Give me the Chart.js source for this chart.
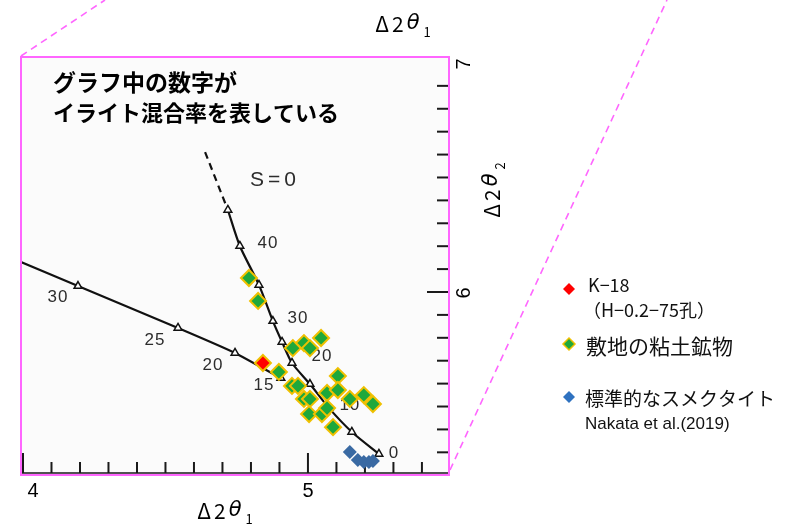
<!DOCTYPE html>
<html><head><meta charset="utf-8">
<script src="https://cdn.jsdelivr.net/npm/chart.js@4.4.0/dist/chart.umd.min.js"></script>
<style>html,body{margin:0;padding:0;background:#fff;}#wrap{width:785px;height:525px;position:relative;}</style>
</head><body><div id="wrap"><canvas id="c" width="785" height="525"></canvas></div>
<script>
// ---- axis ranges & ticks ----
const xRange = [3.993, 5.495];
const yRange = [5.201, 7.026];
const xMinorTicks = [4.0,4.1,4.2,4.3,4.4,4.5,4.6,4.7,4.8,4.9,5.0,5.1,5.2,5.3,5.4];
const xMajorTicks = [4, 5];
const xTickLabels = ['4', '5'];
const yMinorTicks = [5.3,5.4,5.5,5.6,5.7,5.8,5.9,6.0,6.1,6.2,6.3,6.4,6.5,6.6,6.7,6.8,6.9];
const yMajorTicks = [6, 7];
const yTickLabels = ['6', '7'];

// ---- reference curves (Δ2θ1, Δ2θ2) ----
const s0DashedX = [4.639, 4.719];
const s0DashedY = [6.611, 6.358];
const s0X = [4.719, 4.761, 4.828, 4.877, 4.909, 4.944, 5.007, 5.074, 5.154, 5.249];
const s0Y = [6.358, 6.201, 6.031, 5.873, 5.782, 5.690, 5.598, 5.493, 5.389, 5.293];
const s1X = [3.993, 4.193, 4.544, 4.744, 4.905];
const s1Y = [6.131, 6.026, 5.843, 5.734, 5.624];
const s1Marker = [false, true, true, true, true];

// ---- curve labels (illite %) ----
const curveLabelText = ['S=0', '40', '30', '20', '10', '0', '30', '25', '20', '15'];
const curveLabelX = [4.884, 4.860, 4.965, 5.049, 5.147, 5.302, 4.123, 4.463, 4.667, 4.846];
const curveLabelY = [6.489, 6.214, 5.886, 5.721, 5.507, 5.297, 5.978, 5.790, 5.681, 5.594];

// ---- samples ----
const k18X = [4.842];
const k18Y = [5.690];
const siteX = [4.793, 4.825, 4.947, 4.986, 5.007, 5.046, 4.898, 5.105, 4.944, 4.965, 5.067,
               5.105, 4.986, 5.007, 5.147, 5.196, 5.228, 5.004, 5.049, 5.067, 5.088];
const siteY = [6.061, 5.961, 5.755, 5.777, 5.755, 5.799, 5.651, 5.633, 5.590, 5.590, 5.559,
               5.572, 5.533, 5.533, 5.533, 5.550, 5.511, 5.467, 5.467, 5.493, 5.410];
const stdX = [5.147, 5.175, 5.196, 5.214, 5.228];
const stdY = [5.301, 5.266, 5.258, 5.258, 5.262];

// ---- texts ----
const noteLines = ['グラフ中の数字が', 'イライト混合率を表している'];
const legendEntries = [
  {label: ['K−18', '（H−0.2−75孔）'], color: '#ff0000', border: null},
  {label: ['敷地の粘土鉱物'], color: '#1ea83c', border: '#f0c000'},
  {label: ['標準的なスメクタイト', 'Nakata et al.(2019)'], color: '#2f72c0', border: null}
];

const pts = (xs, ys) => xs.map((x, i) => ({x, y: ys[i]}));
const PINK = '#ff66ff';

function drawSub(ctx, x, y, sub, size, align) {
  ctx.save();
  ctx.textBaseline = 'middle';
  ctx.textAlign = 'left';
  ctx.font = size + 'px "Noto Sans CJK JP"';
  ctx.letterSpacing = '3px';
  const wa = ctx.measureText('Δ2').width;
  ctx.font = 'italic ' + size + 'px "DejaVu Sans"';
  ctx.letterSpacing = '0px';
  const wt = ctx.measureText('θ').width;
  ctx.font = Math.round(size * 0.6) + 'px "Noto Sans CJK JP"';
  const ws = ctx.measureText(sub).width;
  const total = wa + wt + 4 + ws;
  const x0 = align === 'center' ? x - total / 2 : x;
  ctx.fillStyle = '#000';
  ctx.font = size + 'px "Noto Sans CJK JP"';
  ctx.letterSpacing = '3px';
  ctx.fillText('Δ2', x0, y);
  ctx.letterSpacing = '0px';
  ctx.font = 'italic ' + size + 'px "DejaVu Sans"';
  ctx.fillText('θ', x0 + wa, y);
  ctx.font = Math.round(size * 0.6) + 'px "Noto Sans CJK JP"';
  ctx.fillText(sub, x0 + wa + wt + 4, y + size * 0.38);
  ctx.restore();
}

const decor = {
  id: 'decor',
  beforeDatasetsDraw(chart) {
    const {ctx, chartArea: ca} = chart;
    ctx.save();
    ctx.fillStyle = '#fbfbfb';
    ctx.fillRect(ca.left, ca.top, ca.right - ca.left, ca.bottom - ca.top);
    const xs = chart.scales.x, ys = chart.scales.y;
    ctx.strokeStyle = '#1a1a1a';
    ctx.lineWidth = 1.5;
    const by = ca.bottom - 2;
    ctx.beginPath(); ctx.moveTo(ca.left, by); ctx.lineTo(ca.right, by); ctx.stroke();
    ctx.lineWidth = 2;
    xMinorTicks.forEach(v => {
      const px = xs.getPixelForValue(v);
      const len = xMajorTicks.some(m => Math.abs(m - v) < 1e-6) ? 20 : 11;
      ctx.beginPath(); ctx.moveTo(px, by); ctx.lineTo(px, by - len); ctx.stroke();
    });
    yMinorTicks.forEach(v => {
      const py = ys.getPixelForValue(v);
      const len = yMajorTicks.some(m => Math.abs(m - v) < 1e-6) ? 22 : 12;
      ctx.beginPath(); ctx.moveTo(ca.right, py); ctx.lineTo(ca.right - len, py); ctx.stroke();
    });
    ctx.fillStyle = '#2c2c2c';
    ctx.textAlign = 'center';
    ctx.textBaseline = 'middle';
    curveLabelText.forEach((t, i) => {
      const px = xs.getPixelForValue(curveLabelX[i]);
      const py = ys.getPixelForValue(curveLabelY[i]);
      if (t === 'S=0') { ctx.font = '21px "Liberation Sans"'; ctx.letterSpacing = '4px'; }
      else { ctx.font = '17px "Liberation Sans"'; ctx.letterSpacing = '1px'; }
      ctx.fillText(t, px, py);
    });
    ctx.letterSpacing = '0px';
    ctx.fillStyle = '#000';
    ctx.textAlign = 'left';
    ctx.font = 'bold 23px "Noto Sans CJK JP"';
    ctx.fillText(noteLines[0], ca.left + 32, ca.top + 25);
    ctx.font = 'bold 22px "Noto Sans CJK JP"';
    ctx.fillText(noteLines[1], ca.left + 32, ca.top + 56);
    ctx.restore();
  },
  afterDraw(chart) {
    const {ctx, chartArea: ca} = chart;
    const xs = chart.scales.x, ys = chart.scales.y;
    ctx.save();
    ctx.strokeStyle = PINK;
    ctx.lineWidth = 2;
    ctx.strokeRect(ca.left, ca.top, ca.right - ca.left, ca.bottom - ca.top);
    ctx.setLineDash([7, 5]);
    ctx.lineWidth = 1.6;
    ctx.beginPath(); ctx.moveTo(ca.left, ca.top - 1); ctx.lineTo(ca.left + 84, 0); ctx.stroke();
    ctx.beginPath(); ctx.moveTo(ca.right + 1, ca.bottom - 5); ctx.lineTo(ca.right + 218, 0); ctx.stroke();
    ctx.setLineDash([]);
    ctx.fillStyle = '#000';
    ctx.font = '20px "Liberation Sans"';
    ctx.textAlign = 'center';
    ctx.textBaseline = 'middle';
    xMajorTicks.forEach((v, i) => {
      const px = xs.getPixelForValue(v) + (i === 0 ? 10 : 0);
      ctx.fillText(xTickLabels[i], px, ca.bottom + 16);
    });
    yMajorTicks.forEach((v, i) => {
      const py = ys.getPixelForValue(v);
      ctx.save();
      ctx.translate(ca.right + 15, py + 1);
      ctx.rotate(-Math.PI / 2);
      ctx.fillText(yTickLabels[i], 0, 0);
      ctx.restore();
    });
    drawSub(ctx, (ca.left + ca.right) / 2 - 10, ca.bottom + 36, '1', 21, 'center');
    drawSub(ctx, 403, 24, '1', 21, 'center');
    ctx.save();
    ctx.translate(ca.right + 43, 190);
    ctx.rotate(-Math.PI / 2);
    drawSub(ctx, 0, 0, '2', 21, 'center');
    ctx.restore();
    const lx = ca.right + 120;
    const rows = [{y: 289, ty: [285, 310], fonts: ['18px "Noto Sans CJK JP"', '18px "Noto Sans CJK JP"'], tx: [588, 583]},
                  {y: 344, ty: [346], fonts: ['21px "Noto Sans CJK JP"'], tx: [586]},
                  {y: 397, ty: [399, 424], fonts: ['19px "Noto Sans CJK JP"', '17px "Liberation Sans"'], tx: [585, 585]}];
    legendEntries.forEach((e, i) => {
      const r = rows[i];
      const cx = lx, cy = r.y, s = 6;
      ctx.beginPath();
      ctx.moveTo(cx, cy - s); ctx.lineTo(cx + s, cy); ctx.lineTo(cx, cy + s); ctx.lineTo(cx - s, cy); ctx.closePath();
      ctx.fillStyle = e.color; ctx.fill();
      if (e.border) { ctx.strokeStyle = e.border; ctx.lineWidth = 1.5; ctx.stroke(); }
      ctx.fillStyle = '#111';
      ctx.textAlign = 'left';
      e.label.forEach((t, j) => {
        ctx.font = r.fonts[j];
        ctx.fillText(t, r.tx[j], r.ty[j]);
      });
    });
    ctx.restore();
  }
};

new Chart(document.getElementById('c'), {
  type: 'scatter',
  data: {
    datasets: [
      {label: 'K-18', data: pts(k18X, k18Y), pointStyle: 'rectRot', pointRadius: 8,
       backgroundColor: '#ff0000', borderColor: '#f0c000', borderWidth: 2, order: 0},
      {label: '敷地の粘土鉱物', data: pts(siteX, siteY), pointStyle: 'rectRot', pointRadius: 8,
       backgroundColor: '#1ea83c', borderColor: '#f0c000', borderWidth: 2, order: 1},
      {label: '標準的なスメクタイト', data: pts(stdX, stdY), pointStyle: 'rectRot', pointRadius: 7,
       backgroundColor: '#3a6aa3', borderColor: '#3a6aa3', borderWidth: 0, order: 2},
      {label: 'S=0 (dashed)', data: pts(s0DashedX, s0DashedY), showLine: true, pointRadius: 0,
       borderColor: '#111', borderWidth: 2.2, borderDash: [7, 5], order: 5},
      {label: 'S=0', data: pts(s0X, s0Y), showLine: true, tension: 0.25,
       pointStyle: 'triangle', pointRadius: 4.5, pointBackgroundColor: '#fff', pointBorderColor: '#111',
       pointBorderWidth: 1.5, borderColor: '#111', borderWidth: 2.2, order: 4},
      {label: 'S=1', data: pts(s1X, s1Y), showLine: true, tension: 0.15,
       pointStyle: 'triangle', pointRadius: s1Marker.map(m => m ? 4.5 : 0), pointBackgroundColor: '#fff',
       pointBorderColor: '#111', pointBorderWidth: 1.5, borderColor: '#111', borderWidth: 2.2, order: 4}
    ]
  },
  options: {
    responsive: false,
    animation: false,
    devicePixelRatio: 1,
    layout: {padding: {left: 21, top: 57, right: 336, bottom: 50}},
    scales: {
      x: {type: 'linear', min: xRange[0], max: xRange[1], display: false},
      y: {type: 'linear', min: yRange[0], max: yRange[1], display: false}
    },
    plugins: {legend: {display: false}, tooltip: {enabled: false}}
  },
  plugins: [decor]
});
</script>
</body></html>
